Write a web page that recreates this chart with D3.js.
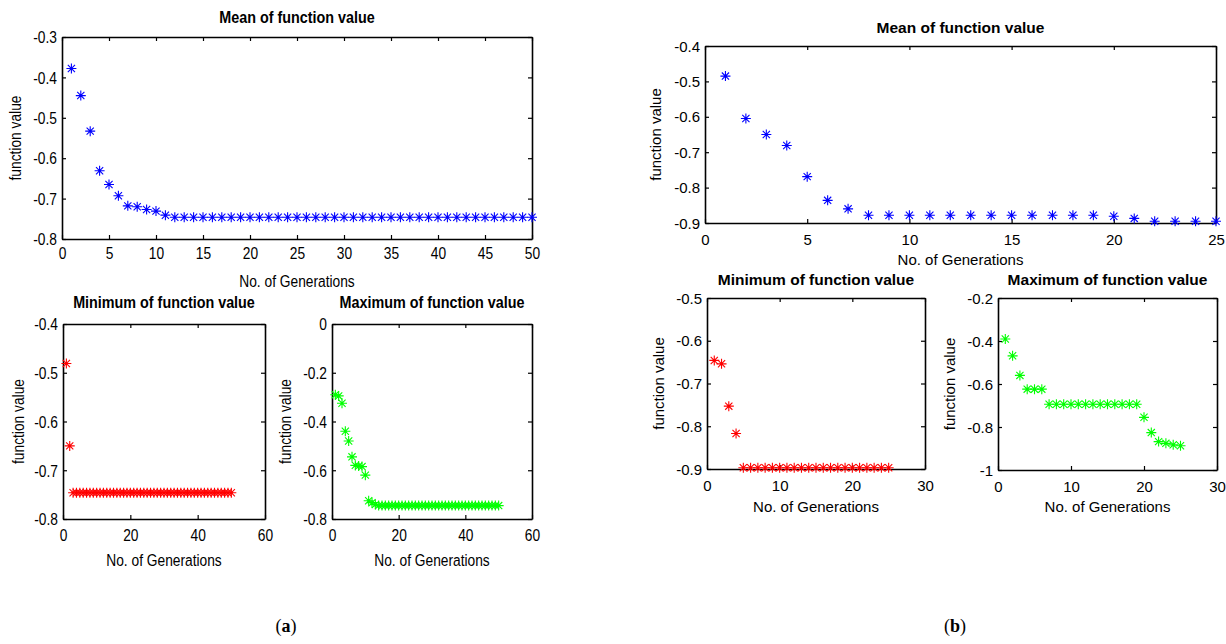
<!DOCTYPE html>
<html>
<head>
<meta charset="utf-8">
<script src="https://cdn.jsdelivr.net/npm/d3@7"></script>
<style>
  html, body { margin: 0; padding: 0; background: #fff; }
  svg { display: block; }
</style>
</head>
<body>
<svg id="chart" width="1226" height="644"></svg>
<script>
// ---------------- DATA ----------------
const gensA = d3.range(1, 51);
const gensB = d3.range(1, 26);

const meanA = [-0.378, -0.445, -0.533, -0.631, -0.665, -0.693, -0.718, -0.720, -0.727, -0.731,
  -0.741, -0.746, -0.746, -0.746, -0.746, -0.746, -0.746, -0.746, -0.746, -0.746,
  -0.746, -0.746, -0.746, -0.746, -0.746, -0.746, -0.746, -0.746, -0.746, -0.746,
  -0.746, -0.746, -0.746, -0.746, -0.746, -0.746, -0.746, -0.746, -0.746, -0.746,
  -0.746, -0.746, -0.746, -0.746, -0.746, -0.746, -0.746, -0.746, -0.746, -0.746];
const minA = [-0.481, -0.650, -0.746, -0.746, -0.746, -0.746, -0.746, -0.746, -0.746, -0.746,
  -0.746, -0.746, -0.746, -0.746, -0.746, -0.746, -0.746, -0.746, -0.746, -0.746,
  -0.746, -0.746, -0.746, -0.746, -0.746, -0.746, -0.746, -0.746, -0.746, -0.746,
  -0.746, -0.746, -0.746, -0.746, -0.746, -0.746, -0.746, -0.746, -0.746, -0.746,
  -0.746, -0.746, -0.746, -0.746, -0.746, -0.746, -0.746, -0.746, -0.746, -0.746];
const maxA = [-0.290, -0.295, -0.325, -0.440, -0.480, -0.545, -0.580, -0.583, -0.585, -0.620,
  -0.725, -0.733, -0.741, -0.745, -0.745, -0.745, -0.745, -0.745, -0.745, -0.745,
  -0.745, -0.745, -0.745, -0.745, -0.745, -0.745, -0.745, -0.745, -0.745, -0.745,
  -0.745, -0.745, -0.745, -0.745, -0.745, -0.745, -0.745, -0.745, -0.745, -0.745,
  -0.745, -0.745, -0.745, -0.745, -0.745, -0.745, -0.745, -0.745, -0.745, -0.745];

const meanB = [-0.485, -0.605, -0.650, -0.681, -0.769, -0.836, -0.860, -0.878, -0.878, -0.878,
  -0.878, -0.878, -0.878, -0.878, -0.878, -0.878, -0.878, -0.878, -0.878, -0.881,
  -0.887, -0.895, -0.895, -0.895, -0.895];
const minB = [-0.646, -0.654, -0.753, -0.817, -0.897, -0.897, -0.897, -0.897, -0.897, -0.897,
  -0.897, -0.897, -0.897, -0.897, -0.897, -0.897, -0.897, -0.897, -0.897, -0.897,
  -0.897, -0.897, -0.897, -0.897, -0.897];
const maxB = [-0.391, -0.469, -0.560, -0.624, -0.624, -0.624, -0.694, -0.694, -0.694, -0.694,
  -0.694, -0.694, -0.694, -0.694, -0.694, -0.694, -0.694, -0.694, -0.694, -0.755,
  -0.826, -0.868, -0.876, -0.883, -0.887];

const xTicksAMean = [0, 5, 10, 15, 20, 25, 30, 35, 40, 45, 50];
const xTicksASmall = [0, 20, 40, 60];
const yTicksAMean = [-0.3, -0.4, -0.5, -0.6, -0.7, -0.8];
const yTicksAMin = [-0.4, -0.5, -0.6, -0.7, -0.8];
const yTicksAMax = [0, -0.2, -0.4, -0.6, -0.8];
const xTicksBMean = [0, 5, 10, 15, 20, 25];
const xTicksBSmall = [0, 10, 20, 30];
const yTicksBMean = [-0.4, -0.5, -0.6, -0.7, -0.8, -0.9];
const yTicksBMin = [-0.5, -0.6, -0.7, -0.8, -0.9];
const yTicksBMax = [-0.2, -0.4, -0.6, -0.8, -1];

const titleMean = "Mean of function value";
const titleMin = "Minimum of function value";
const titleMax = "Maximum of function value";
const xLabel = "No. of Generations";
const yLabel = "function value";

// ---------------- STYLE ----------------
const fontA = { size: 17, sx: 0.81, bsize: 16.5, bsx: 0.87 };
const fontB = { size: 15, sx: 1.0, bsize: 15.5, bsx: 1.0 };
const FAMILY = "'Liberation Sans', Arial, sans-serif";

const panels = [
  { x0: 62, y0: 37, x1: 532, y1: 239, xd: [0, 50], yd: [-0.8, -0.3], xt: xTicksAMean, yt: yTicksAMean,
    gens: gensA, vals: meanA, color: "#0000ff", title: titleMean, titleY: 23, xlabY: 287, ylabX: 21, xtOff: 20, f: fontA },
  { x0: 63, y0: 324, x1: 265, y1: 519, xd: [0, 60], yd: [-0.8, -0.4], xt: xTicksASmall, yt: yTicksAMin,
    gens: gensA, vals: minA, color: "#ff0000", title: titleMin, titleY: 308, xlabY: 566, ylabX: 24, xtOff: 22, f: fontA },
  { x0: 332, y0: 324, x1: 532, y1: 519, xd: [0, 60], yd: [-0.8, 0], xt: xTicksASmall, yt: yTicksAMax,
    gens: gensA, vals: maxA, color: "#00ff00", title: titleMax, titleY: 308, xlabY: 566, ylabX: 291, xtOff: 22, f: fontA },
  { x0: 705, y0: 46, x1: 1216, y1: 223, xd: [0, 25], yd: [-0.9, -0.4], xt: xTicksBMean, yt: yTicksBMean,
    gens: gensB, vals: meanB, color: "#0000ff", title: titleMean, titleY: 33, xlabY: 265, ylabX: 661, xtOff: 22, f: fontB },
  { x0: 707, y0: 298, x1: 925, y1: 469, xd: [0, 30], yd: [-0.9, -0.5], xt: xTicksBSmall, yt: yTicksBMin,
    gens: gensB, vals: minB, color: "#ff0000", title: titleMin, titleY: 285, xlabY: 512, ylabX: 664, xtOff: 22, f: fontB },
  { x0: 998, y0: 298, x1: 1217, y1: 470, xd: [0, 30], yd: [-1, -0.2], xt: xTicksBSmall, yt: yTicksBMax,
    gens: gensB, vals: maxB, color: "#00ff00", title: titleMax, titleY: 285, xlabY: 512, ylabX: 955, xtOff: 22, f: fontB }
];

const svg = d3.select("#chart");
const fmt = d => String(Math.round(d * 10) / 10);

function asterisk(g, cx, cy, r, color) {
  const d = r * 0.72;
  const p = `M${cx - r},${cy}H${cx + r}M${cx},${cy - r}V${cy + r}` +
            `M${cx - d},${cy - d}L${cx + d},${cy + d}M${cx - d},${cy + d}L${cx + d},${cy - d}`;
  g.append("path").attr("d", p).attr("stroke", color).attr("stroke-width", 1.1).attr("fill", "none");
}

panels.forEach(P => {
  const w = P.x1 - P.x0, h = P.y1 - P.y0;
  const g = svg.append("g").attr("transform", `translate(${P.x0},${P.y0})`);
  const x = d3.scaleLinear().domain(P.xd).range([0, w]);
  const y = d3.scaleLinear().domain(P.yd).range([h, 0]);
  const f = P.f;

  // bottom axis
  const gb = g.append("g").attr("transform", `translate(0,${h})`)
    .call(d3.axisBottom(x).tickValues(P.xt).tickFormat(fmt).tickSizeInner(-4).tickSizeOuter(0));
  gb.selectAll("text").attr("y", P.xtOff).attr("dy", 0)
    .attr("transform", `scale(${f.sx},1)`);
  // left axis
  const gl = g.append("g")
    .call(d3.axisLeft(y).tickValues(P.yt).tickFormat(fmt).tickSizeInner(-4).tickSizeOuter(0));
  gl.selectAll("text").attr("x", -5 / f.sx).attr("dy", "0.34em")
    .attr("transform", `scale(${f.sx},1)`);
  // top axis
  g.append("g")
    .call(d3.axisTop(x).tickValues(P.xt).tickFormat("").tickSizeInner(-4).tickSizeOuter(0));
  // right axis
  g.append("g").attr("transform", `translate(${w},0)`)
    .call(d3.axisRight(y).tickValues(P.yt).tickFormat("").tickSizeInner(-4).tickSizeOuter(0));

  g.selectAll(".domain").attr("stroke", "#000").attr("stroke-width", 1.6);
  g.selectAll(".tick line").attr("stroke", "#000").attr("stroke-width", 1.2);
  g.selectAll(".tick text").attr("font-family", FAMILY).attr("font-size", f.size).attr("fill", "#000");

  // markers
  const mg = g.append("g");
  P.vals.forEach((v, i) => asterisk(mg, x(P.gens[i]), y(v), 5, P.color));

  // title
  svg.append("text")
    .attr("transform", `translate(${P.x0 + w / 2},${P.titleY}) scale(${f.bsx},1)`)
    .attr("text-anchor", "middle").attr("font-family", FAMILY).attr("font-weight", "bold")
    .attr("font-size", f.bsize).attr("fill", "#000").text(P.title);
  // x label
  svg.append("text")
    .attr("transform", `translate(${P.x0 + w / 2},${P.xlabY}) scale(${f.sx},1)`)
    .attr("text-anchor", "middle").attr("font-family", FAMILY)
    .attr("font-size", f.size).attr("fill", "#000").text(xLabel);
  // y label
  svg.append("text")
    .attr("transform", `translate(${P.ylabX},${P.y0 + h / 2}) rotate(-90) scale(${f.sx},1)`)
    .attr("text-anchor", "middle").attr("font-family", FAMILY)
    .attr("font-size", f.size).attr("fill", "#000").text(yLabel);
});

// sub-figure captions
const captions = [{ t: "a", x: 286 }, { t: "b", x: 955 }];
captions.forEach(c => {
  const t = svg.append("text").attr("x", c.x).attr("y", 632).attr("text-anchor", "middle")
    .attr("font-family", "'Liberation Serif', 'DejaVu Serif', serif").attr("font-size", 18).attr("fill", "#000");
  t.append("tspan").text("(");
  t.append("tspan").attr("font-weight", "bold").text(c.t);
  t.append("tspan").text(")");
});
</script>
</body>
</html>
